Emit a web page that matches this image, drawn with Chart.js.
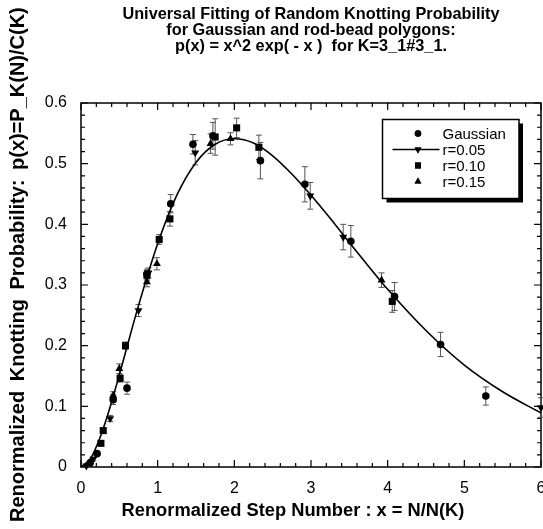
<!DOCTYPE html>
<html>
<head>
<meta charset="utf-8">
<script src="https://cdn.jsdelivr.net/npm/chart.js@4.4.1/dist/chart.umd.min.js"></script>
<style>
    html, body { margin: 0; padding: 0; background: #fff; }
    #wrap { width: 543px; height: 529px; }
</style>
</head>
<body>
<div id="wrap"><canvas id="main-chart" width="543" height="529"></canvas></div>
<script>
const title_lines = [
    "Universal Fitting of Random Knotting Probability",
    "for Gaussian and rod-bead polygons:",
    "p(x) = x^2 exp( - x )  for K=3_1#3_1."
];
const x_title = "Renormalized Step Number : x = N/N(K)";
const y_title = "Renormalized Knotting Probability: p(x)=P_K(N)/C(K)";
const x_ticks = [0, 1, 2, 3, 4, 5, 6];
const y_ticks = [0, 0.1, 0.2, 0.3, 0.4, 0.5, 0.6];
const series_labels = ["Gaussian", "r=0.05", "r=0.10", "r=0.15"];

// Gaussian (circles)
const gauss_x = [0.12, 0.21, 0.42, 0.60, 0.86, 1.17, 1.46, 1.72, 2.34, 2.92, 3.52, 4.09, 4.69, 5.28];
const gauss_y = [0.007, 0.022, 0.111, 0.130, 0.318, 0.434, 0.532, 0.546, 0.505, 0.466, 0.372, 0.281, 0.202, 0.117];
const gauss_err = [0.002, 0.003, 0.008, 0.010, 0.008, 0.015, 0.016, 0.022, 0.030, 0.029, 0.026, 0.023, 0.020, 0.015];

// r=0.05 (down triangles)
const r05_x = [0.07, 0.16, 0.38, 0.75, 0.88, 1.49, 2.99, 3.42, 6.0];
const r05_y = [0.002, 0.013, 0.080, 0.258, 0.320, 0.518, 0.447, 0.379, 0.098];
const r05_err = [0.002, 0.003, 0.005, 0.010, 0.008, 0.020, 0.022, 0.021, 0.016];

// r=0.10 (squares)
const r10_x = [0.26, 0.29, 0.51, 0.58, 0.86, 1.02, 1.16, 1.75, 2.03, 2.32, 4.06];
const r10_y = [0.039, 0.060, 0.146, 0.200, 0.316, 0.375, 0.409, 0.544, 0.559, 0.527, 0.273];
const r10_err = [0.003, 0.004, 0.006, 0.006, 0.008, 0.008, 0.012, 0.030, 0.016, 0.020, 0.018];

// r=0.15 (triangles)
const r15_x = [0.10, 0.42, 0.50, 0.86, 0.99, 1.69, 1.95, 3.92];
const r15_y = [0.005, 0.118, 0.162, 0.305, 0.335, 0.533, 0.541, 0.308];
const r15_err = [0.002, 0.006, 0.008, 0.008, 0.010, 0.016, 0.010, 0.012];

// fitted curve
const fit_x = [0, 0.125, 0.25, 0.375, 0.5, 0.75, 1, 1.25, 1.5, 1.75, 2, 2.25, 2.5, 2.75, 3, 3.25, 3.5, 3.75, 4, 4.5, 5, 5.5, 6];
const fit_y = [0, 0.014, 0.049, 0.097, 0.152, 0.266, 0.368, 0.448, 0.502, 0.532, 0.541, 0.534, 0.513, 0.483, 0.448, 0.410, 0.370, 0.331, 0.293, 0.225, 0.168, 0.124, 0.089];

const font_family = "'Liberation Sans', Arial, Helvetica, sans-serif";

const pts = (xs, ys) => xs.map((x, i) => ({ x: x, y: ys[i] }));

const make_series = (label, xs, ys, errs, style, rot, radius) => ({
    type: "scatter",
    label: label,
    data: pts(xs, ys),
    errs: errs,
    pointStyle: style,
    rotation: rot,
    pointRadius: radius,
    pointBackgroundColor: "#000",
    pointBorderColor: "#000",
    pointBorderWidth: 0,
    clip: false,
    order: 1,
});

const datasets = [
    make_series(series_labels[0], gauss_x, gauss_y, gauss_err, "circle", 0, 3.8),
    make_series(series_labels[1], r05_x, r05_y, r05_err, "triangle", 180, 4.6),
    make_series(series_labels[2], r10_x, r10_y, r10_err, "rect", 0, 5),
    make_series(series_labels[3], r15_x, r15_y, r15_err, "triangle", 0, 4.6),
    {
        type: "line",
        label: "fit",
        data: pts(fit_x, fit_y),
        borderColor: "#000",
        borderWidth: 1.6,
        pointRadius: 0,
        cubicInterpolationMode: "monotone",
        fill: false,
        order: 2,
    },
];

// frame with inward ticks on all four sides, plus error bars
const frame_plugin = {
    id: "frame",
    beforeDatasetsDraw(chart) {
        const { ctx, chartArea: a, scales } = chart;
        const xs = scales.x, ys = scales.y;
        ctx.save();
        ctx.strokeStyle = "#000";
        ctx.lineWidth = 1.5;
        ctx.strokeRect(a.left, a.top, a.right - a.left, a.bottom - a.top);
        ctx.lineWidth = 1.2;
        ctx.beginPath();
        for (let i = 0; i <= 30; i++) {
            const px = xs.getPixelForValue(i * 0.2);
            const len = i % 5 === 0 ? 7 : 4;
            ctx.moveTo(px, a.bottom); ctx.lineTo(px, a.bottom - len);
            ctx.moveTo(px, a.top); ctx.lineTo(px, a.top + len);
        }
        for (let i = 0; i <= 30; i++) {
            const py = ys.getPixelForValue(i * 0.02);
            const len = i % 5 === 0 ? 7 : 4;
            ctx.moveTo(a.left, py); ctx.lineTo(a.left + len, py);
            ctx.moveTo(a.right, py); ctx.lineTo(a.right - len, py);
        }
        ctx.stroke();

        ctx.strokeStyle = "#555";
        ctx.lineWidth = 1;
        chart.data.datasets.forEach((ds) => {
            if (!ds.errs) return;
            ds.data.forEach((p, i) => {
                const px = xs.getPixelForValue(p.x);
                const y1 = ys.getPixelForValue(p.y + ds.errs[i]);
                const y2 = ys.getPixelForValue(p.y - ds.errs[i]);
                ctx.beginPath();
                ctx.moveTo(px, y1); ctx.lineTo(px, y2);
                ctx.moveTo(px - 3, y1); ctx.lineTo(px + 3, y1);
                ctx.moveTo(px - 3, y2); ctx.lineTo(px + 3, y2);
                ctx.stroke();
            });
        });
        ctx.restore();
    },
};

// titles and legend box
const text_plugin = {
    id: "texts",
    afterDraw(chart) {
        const { ctx, chartArea: a } = chart;
        const cx = (a.left + a.right) / 2;
        ctx.save();
        ctx.fillStyle = "#000";
        ctx.textAlign = "center";
        ctx.textBaseline = "middle";
        ctx.font = "bold 16.3px " + font_family;
        title_lines.forEach((t, i) => ctx.fillText(t, cx, 14.5 + i * 16.2));

        ctx.font = "bold 18.3px " + font_family;
        ctx.fillText(x_title, cx - 18, 511);

        ctx.font = "bold 20px " + font_family;
        ctx.translate(18, 522);
        ctx.rotate(-Math.PI / 2);
        ctx.textAlign = "left";
        ctx.wordSpacing = "4px";
        ctx.fillText(y_title, 0, 0);
        ctx.restore();

        // legend
        const bx = 382.5, by = 119.5, bw = 136.5, bh = 79;
        ctx.save();
        ctx.fillStyle = "#000";
        ctx.fillRect(bx + 4, by + 4, bw, bh);
        ctx.fillStyle = "#fff";
        ctx.fillRect(bx, by, bw, bh);
        ctx.strokeStyle = "#000";
        ctx.lineWidth = 1.5;
        ctx.strokeRect(bx, by, bw, bh);
        ctx.font = "15px " + font_family;
        ctx.textBaseline = "middle";
        ctx.textAlign = "left";
        ctx.fillStyle = "#000";
        series_labels.forEach((lab, i) => {
            const ly = by + 14 + i * 16;
            const ds = chart.data.datasets[i];
            if (i === 1) {
                ctx.beginPath();
                ctx.lineWidth = 1.4;
                ctx.moveTo(bx + 10, ly); ctx.lineTo(bx + 57, ly);
                ctx.stroke();
            }
            Chart.helpers.drawPoint(ctx, {
                pointStyle: ds.pointStyle,
                rotation: ds.rotation,
                radius: ds.pointRadius * 0.85,
                borderWidth: 0,
            }, bx + 35.5, ly);
            ctx.fill();
            ctx.fillText(lab, bx + 60, ly + 1);
        });
        ctx.restore();
    },
};

new Chart(document.getElementById("main-chart").getContext("2d"), {
    data: { datasets: datasets },
    options: {
        responsive: false,
        devicePixelRatio: 1,
        animation: false,
        layout: {
            autoPadding: false,
            padding: { top: 103, right: 2, left: 0, bottom: 0 },
        },
        plugins: {
            legend: { display: false },
            tooltip: { enabled: false },
            title: { display: false },
        },
        scales: {
            x: {
                type: "linear",
                min: 0,
                max: 6,
                grid: { display: false, drawTicks: false },
                border: { display: false },
                afterBuildTicks: (scale) => { scale.ticks = x_ticks.map((v) => ({ value: v })); },
                afterFit: (scale) => {
                    scale.height = 62;
                    scale.paddingLeft = 0;
                    scale.paddingRight = 0;
                },
                ticks: {
                    color: "#000",
                    padding: 12,
                    maxRotation: 0,
                    font: { family: font_family, size: 16 },
                    callback: (v) => String(v),
                },
            },
            y: {
                type: "linear",
                min: 0,
                max: 0.6,
                grid: { display: false, drawTicks: false },
                border: { display: false },
                afterBuildTicks: (scale) => { scale.ticks = y_ticks.map((v) => ({ value: v })); },
                afterFit: (scale) => {
                    scale.width = 81;
                    scale.paddingTop = 0;
                    scale.paddingBottom = 0;
                },
                ticks: {
                    color: "#000",
                    padding: 14,
                    font: { family: font_family, size: 16 },
                    callback: (v) => (v === 0 ? "0" : v.toFixed(1)),
                },
            },
        },
    },
    plugins: [frame_plugin, text_plugin],
});
</script>
</body>
</html>
